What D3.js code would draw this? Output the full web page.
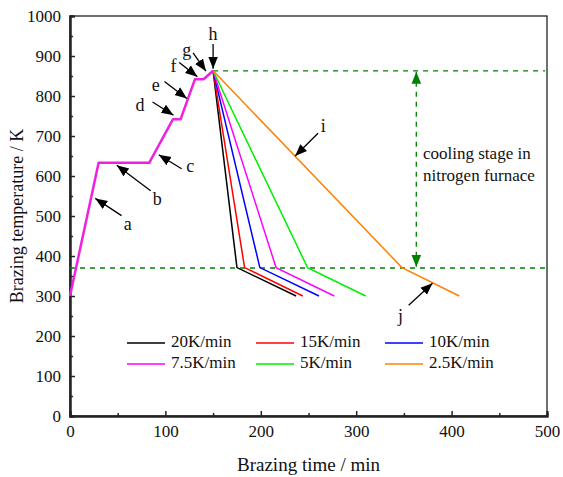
<!DOCTYPE html>
<html>
<head>
<meta charset="utf-8">
<script src="https://cdn.jsdelivr.net/npm/d3@7"></script>
<style>
  body { margin: 0; background: #fff; }
  svg text { font-family: "Liberation Serif", "Times New Roman", Times, serif; fill: #111; }
</style>
</head>
<body>
<div id="chart"></div>
<script>
const serif = '"Liberation Serif", "Times New Roman", Times, serif';

// heating profile shared by all runs (time min, temperature K)
const heating = [[0, 300], [30, 633], [83, 633], [108, 742], [116, 742], [131, 842], [140, 842], [150, 863]];

const rates = ['20K/min', '15K/min', '10K/min', '7.5K/min', '5K/min', '2.5K/min'];
const colors = ['#000000', '#ff0000', '#0000ff', '#ff00ff', '#00ee00', '#ff7f00'];
// cooling: knee point at ~370 K then end at 300 K
const cooling = [
  [[175, 371], [237, 300]],
  [[183, 371], [244, 300]],
  [[199, 371], [261, 300]],
  [[216, 371], [277, 300]],
  [[249, 371], [310, 300]],
  [[348, 371], [408, 300]]
];

const peakTemp = 863;
const nitrogenTemp = 370;

const xTicks = [0, 100, 200, 300, 400, 500];
const yTicks = [0, 100, 200, 300, 400, 500, 600, 700, 800, 900, 1000];

// annotation arrows: label, label pos [t, T], arrow start, arrow end (data units)
const notes = [
  { label: 'a', text: [60.5, 476], from: [54, 501], to: [26.5, 544] },
  { label: 'b', text: [91.5, 538], from: [84.5, 563], to: [49, 627] },
  { label: 'c', text: [126, 620], from: [117, 618], to: [93, 653] },
  { label: 'd', text: [73.5, 773], from: [86.5, 785], to: [108.5, 752] },
  { label: 'e', text: [90, 822], from: [99, 836], to: [122.5, 794] },
  { label: 'f', text: [108.5, 870], from: [114.5, 884], to: [133.5, 848] },
  { label: 'g', text: [122.5, 910], from: [129, 908], to: [142.5, 862] },
  { label: 'h', text: [150, 950], from: [150, 930], to: [150, 868] },
  { label: 'i', text: [265.5, 720], from: [260, 707], to: [236, 650] },
  { label: 'j', text: [346.5, 245], from: [355, 277], to: [380, 332] }
];

const width = 563;
const height = 477;
const margin = { top: 16, right: 16, bottom: 61, left: 70 };

const x = d3.scaleLinear().domain([0, 500]).range([margin.left, width - margin.right]);
const y = d3.scaleLinear().domain([0, 1000]).range([height - margin.bottom, margin.top]);

const svg = d3.select('#chart')
  .append('svg')
  .attr('width', width)
  .attr('height', height);

const defs = svg.append('defs');

function marker(id, color, size) {
  defs.append('marker')
    .attr('id', id)
    .attr('viewBox', '0 0 10 10')
    .attr('refX', 10)
    .attr('refY', 5)
    .attr('markerWidth', size)
    .attr('markerHeight', size)
    .attr('markerUnits', 'userSpaceOnUse')
    .attr('orient', 'auto-start-reverse')
    .append('path')
    .attr('d', 'M0,1 L10,5 L0,9 Z')
    .attr('fill', color);
}
marker('arrowBlack', '#000', 12);
marker('arrowGreen', '#008000', 12);

// frame
svg.append('rect')
  .attr('x', x(0))
  .attr('y', y(1000))
  .attr('width', x(500) - x(0))
  .attr('height', y(0) - y(1000))
  .attr('fill', 'none')
  .attr('stroke', '#222')
  .attr('stroke-width', 1.3);

// axes with inward ticks
const xAxis = svg.append('g')
  .attr('transform', `translate(0,${y(0)})`)
  .call(d3.axisBottom(x).tickValues(xTicks).tickSize(-5).tickPadding(9).tickFormat(d3.format('d')));
const xMinor = svg.append('g')
  .attr('transform', `translate(0,${y(0)})`)
  .call(d3.axisBottom(x).tickValues(d3.range(50, 500, 100)).tickSize(-3).tickFormat(''));

const yAxis = svg.append('g')
  .attr('transform', `translate(${x(0)},0)`)
  .call(d3.axisLeft(y).tickValues(yTicks).tickSize(-5).tickPadding(9).tickFormat(d3.format('d')));
const yMinor = svg.append('g')
  .attr('transform', `translate(${x(0)},0)`)
  .call(d3.axisLeft(y).tickValues(d3.range(50, 1000, 100)).tickSize(-3).tickFormat(''));

[xAxis, xMinor, yAxis, yMinor].forEach(g => {
  g.attr('font-family', serif);
  g.select('.domain').attr('stroke', '#222').attr('stroke-width', 2);
  g.selectAll('.tick line').attr('stroke', '#222').attr('stroke-width', 1.5);
  g.selectAll('.tick text')
    .attr('font-size', 17)
    .attr('fill', '#111');
});

svg.append('text')
  .attr('x', (x(0) + x(500)) / 2)
  .attr('y', 471)
  .attr('text-anchor', 'middle')
  .attr('font-size', 19)
  .text('Brazing time / min');

svg.append('text')
  .attr('transform', `translate(23,${(y(0) + y(1000)) / 2}) rotate(-90)`)
  .attr('text-anchor', 'middle')
  .attr('font-size', 18)
  .text('Brazing temperature / K');

// guide lines
const dashed = svg.append('g')
  .attr('stroke', '#008000')
  .attr('stroke-width', 1.3)
  .attr('stroke-dasharray', '5,5')
  .attr('fill', 'none');

dashed.append('line')
  .attr('x1', x(150)).attr('x2', x(498))
  .attr('y1', y(peakTemp)).attr('y2', y(peakTemp));
dashed.append('line')
  .attr('x1', x(0)).attr('x2', x(498))
  .attr('y1', y(nitrogenTemp)).attr('y2', y(nitrogenTemp));
dashed.append('line')
  .attr('x1', x(363)).attr('x2', x(363))
  .attr('y1', y(peakTemp) + 1).attr('y2', y(nitrogenTemp) - 1)
  .attr('marker-start', 'url(#arrowGreen)')
  .attr('marker-end', 'url(#arrowGreen)');

const line = d3.line()
  .x(d => x(d[0]))
  .y(d => y(d[1]));

// series
svg.append('g')
  .selectAll('path')
  .data(rates)
  .join('path')
  .attr('d', (d, i) => line([heating[heating.length - 1]].concat(cooling[i])))
  .attr('fill', 'none')
  .attr('stroke', (d, i) => colors[i])
  .attr('stroke-width', 1.5);

svg.append('path')
  .attr('d', line(heating))
  .attr('fill', 'none')
  .attr('stroke', '#f020e0')
  .attr('stroke-width', 2.5)
  .attr('stroke-linejoin', 'round');

// annotation text
const coolingText = svg.append('text')
  .attr('font-size', 17);
coolingText.append('tspan').attr('x', 423).attr('y', 159).text('cooling stage in');
coolingText.append('tspan').attr('x', 423).attr('y', 181).text('nitrogen furnace');

const ann = svg.append('g');
ann.selectAll('line')
  .data(notes)
  .join('line')
  .attr('x1', d => x(d.from[0]))
  .attr('y1', d => y(d.from[1]))
  .attr('x2', d => x(d.to[0]))
  .attr('y2', d => y(d.to[1]))
  .attr('stroke', '#000')
  .attr('stroke-width', 1.3)
  .attr('marker-end', 'url(#arrowBlack)');
ann.selectAll('text')
  .data(notes)
  .join('text')
  .attr('x', d => x(d.text[0]))
  .attr('y', d => y(d.text[1]))
  .attr('text-anchor', 'middle')
  .attr('dominant-baseline', 'middle')
  .attr('font-size', 18)
  .text(d => d.label);

// legend, 3 columns x 2 rows
const legend = svg.append('g');
const legendItems = legend.selectAll('g')
  .data(rates)
  .join('g')
  .attr('transform', (d, i) => `translate(${127 + (i % 3) * 129},${343 + Math.floor(i / 3) * 21})`);
legendItems.append('line')
  .attr('x1', 0).attr('x2', 38)
  .attr('stroke', (d, i) => colors[i])
  .attr('stroke-width', 1.5);
legendItems.append('text')
  .attr('x', 44)
  .attr('dominant-baseline', 'middle')
  .attr('font-size', 17)
  .text(d => d);
</script>
</body>
</html>
